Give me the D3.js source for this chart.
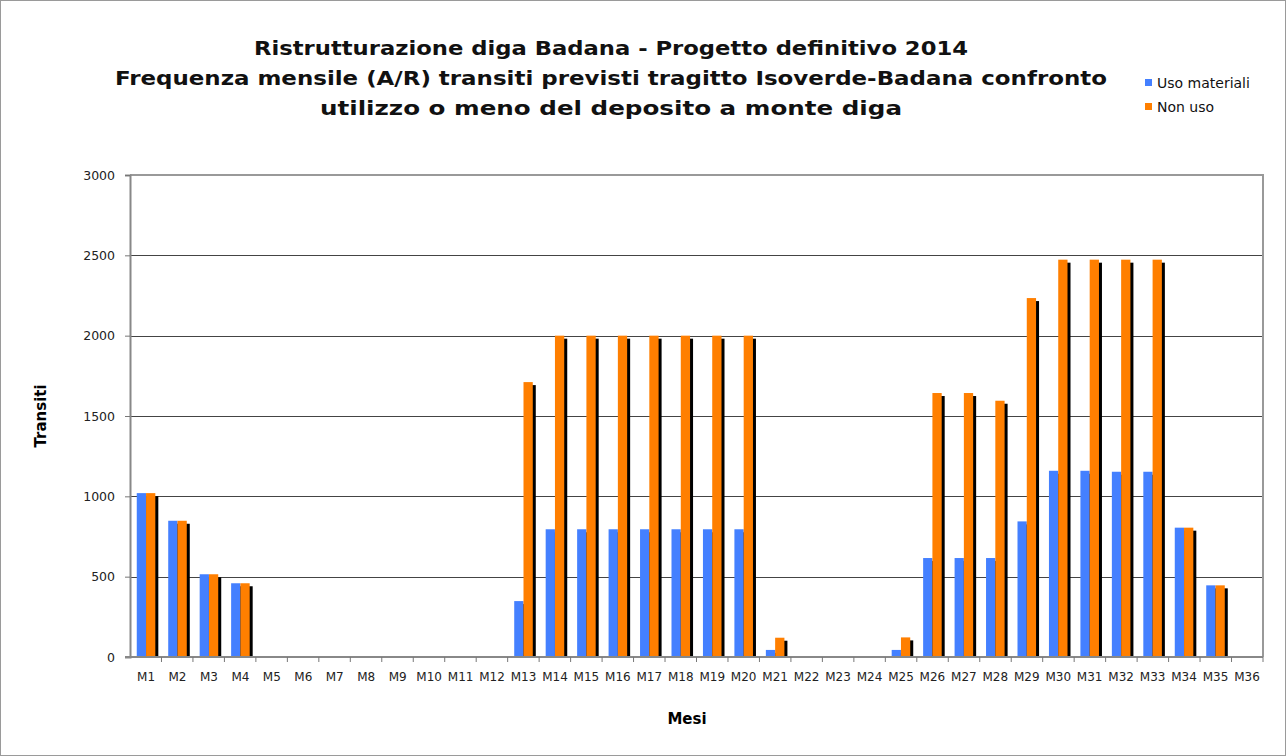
<!DOCTYPE html>
<html><head><meta charset="utf-8">
<script src="https://cdn.jsdelivr.net/npm/d3@7"></script>
<style>body{margin:0;background:#fff}svg{display:block}</style>
</head><body>
<svg id="c" width="1286" height="756"></svg>
<script>
const categories = Array.from({length:36},(_,i)=>"M"+(i+1));
const usoMateriali = [1020,848,515,459,0,0,0,0,0,0,0,0,348,795,795,795,795,795,795,795,44,0,0,0,44,616,616,616,844,1159,1159,1153,1153,805,446,0];
const nonUso =       [1020,848,515,459,0,0,0,0,0,0,0,0,1711,2000,2000,2000,2000,2000,2000,2000,120,0,0,0,122,1643,1643,1595,2234,2473,2473,2473,2473,805,446,0];
const yTicks = [0,500,1000,1500,2000,2500,3000];
const seriesNames = ["Uso materiali","Non uso"];
const colors = ["#4480ff","#ff7f00"];
const titleLines = ["Ristrutturazione diga Badana - Progetto definitivo 2014",
  "Frequenza mensile (A/R) transiti previsti tragitto Isoverde-Badana confronto",
  "utilizzo o meno del deposito a monte diga"];

const svg = d3.select("#c");
const font = "DejaVu Sans, Verdana, sans-serif";
svg.append("rect").attr("x",0.5).attr("y",0.5).attr("width",1285).attr("height",755).attr("fill","#fff").attr("stroke","#9a9a9a");

const L=130,R=1263,T=175,B=657;
const x = d3.scaleBand().domain(categories).range([L,R]).paddingInner(0.41).paddingOuter(0.215);
const x1 = d3.scaleBand().domain([0,1]).range([0,x.bandwidth()]);
const y = d3.scaleLinear().domain([0,3000]).range([B,T]);

// gridlines
svg.append("g").selectAll("line").data(yTicks.filter(d=>d>0 && d<3000)).join("line")
  .attr("x1",L).attr("x2",R).attr("y1",d=>Math.round(y(d))+0.5).attr("y2",d=>Math.round(y(d))+0.5)
  .attr("stroke","#444").attr("stroke-width",1);
// plot border top/right
svg.append("path").attr("d",`M${L},${T}H${R}V${B}`).attr("fill","none").attr("stroke","#999").attr("stroke-width",2);

// y axis
const ya = svg.append("g").attr("transform",`translate(${L},0)`)
  .call(d3.axisLeft(y).tickValues(yTicks).tickFormat(d3.format("d")).tickSize(5).tickPadding(10));
ya.select(".domain").attr("stroke","#888").attr("stroke-width",2);
ya.selectAll(".tick line").attr("stroke","#777");
ya.selectAll("text").attr("font-family",font).attr("font-size",12.5).attr("fill","#222");

// bars: shadows first
const groups = categories.map((c,i)=>[usoMateriali[i],nonUso[i]]);
const g = svg.append("g");
groups.forEach((vals,i)=>{
  vals.forEach((v,s)=>{
    if(v<=0) return;
    g.append("rect").attr("x",x(categories[i])+x1(s)+3).attr("y",y(v)+3)
      .attr("width",x1.bandwidth()).attr("height",B-y(v)-3).attr("fill","#000");
  });
});
groups.forEach((vals,i)=>{
  vals.forEach((v,s)=>{
    if(v<=0) return;
    g.append("rect").attr("x",x(categories[i])+x1(s)).attr("y",y(v))
      .attr("width",x1.bandwidth()).attr("height",B-y(v)).attr("fill",colors[s]);
  });
});

// x axis
const xa = svg.append("g").attr("transform",`translate(0,${B})`)
  .call(d3.axisBottom(x).tickSize(0).tickPadding(15));
xa.select(".domain").remove();
xa.selectAll("text").attr("font-family",font).attr("font-size",12).attr("fill","#222");
svg.append("line").attr("x1",L-5).attr("x2",R).attr("y1",B).attr("y2",B).attr("stroke","#888").attr("stroke-width",2);
svg.append("g").selectAll("line").data(d3.range(1,37)).join("line")
  .attr("x1",d=>L+d*(R-L)/36).attr("x2",d=>L+d*(R-L)/36).attr("y1",B).attr("y2",B+5).attr("stroke","#777");

// title
svg.append("g").selectAll("text").data(titleLines).join("text")
  .attr("x",611).attr("y",(d,i)=>55+i*30).attr("text-anchor","middle")
  .attr("font-family",font).attr("font-weight","bold").attr("font-size",20).attr("fill","#111")
  .attr("textLength",(d,i)=>[714,992,582][i]).attr("lengthAdjust","spacingAndGlyphs")
  .text(d=>d);

// axis titles
svg.append("text").attr("transform","translate(46,416) rotate(-90)").attr("text-anchor","middle")
  .attr("font-family",font).attr("font-weight","bold").attr("font-size",15).text("Transiti");
svg.append("text").attr("x",687).attr("y",724).attr("text-anchor","middle")
  .attr("font-family",font).attr("font-weight","bold").attr("font-size",15).text("Mesi");

// legend
const lg = svg.append("g");
seriesNames.forEach((n,i)=>{
  lg.append("rect").attr("x",1145).attr("y",79+i*24).attr("width",7).attr("height",7).attr("fill",colors[i]);
  lg.append("text").attr("x",1157).attr("y",88+i*24).attr("font-family",font).attr("font-size",14).attr("fill","#111").text(n);
});
</script>
</body></html>
